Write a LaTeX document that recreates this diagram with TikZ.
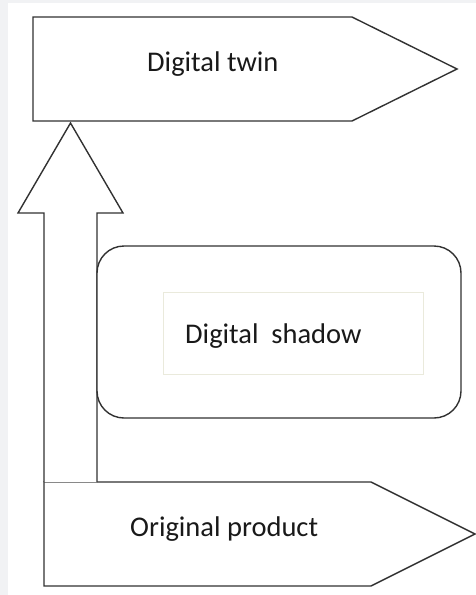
\documentclass[tikz,border=0pt]{standalone}
\usepackage{fontspec}
\setmainfont{Carlito}
\definecolor{bggrey}{RGB}{241,242,244}
\definecolor{framebeige}{RGB}{234,234,220}
\definecolor{linegrey}{RGB}{50,50,50}
\begin{document}
\begin{tikzpicture}[x=1pt,y=-1pt,
  shape line/.style={draw=linegrey,line width=1.4pt,fill=white,line join=miter},
  label text/.style={font=\fontsize{28.5}{34}\selectfont,text=black!90,inner sep=0pt},
  inner frame/.style={draw=framebeige,line width=0.9pt}]
\useasboundingbox (0,0) rectangle (476,595);
\fill[white] (0,0) rectangle (476,595);
\fill[bggrey] (0,0) rectangle (8,595);
\fill[bggrey] (0,0) rectangle (476,3);
% Digital twin block
\draw[shape line] (33,17) -- (352,17) -- (457,69) -- (352,121) -- (33,121) -- cycle;
% Original product block
\draw[shape line] (44,482) -- (371,482) -- (475,534) -- (371,586) -- (44,586) -- cycle;
% Up block arrow
\draw[shape line] (44,482) -- (44,213) -- (18,213) -- (70.5,123) -- (123,213) -- (97,213) -- (97,482);
% Digital shadow
\draw[shape line,rounded corners=27pt] (97,246) rectangle (461,418);
\draw[inner frame] (163,292) rectangle (423,374);
\node[label text,anchor=base west] (twin) at (147,71) {Digital twin};
\node[label text,anchor=base west] (shadow) at (185,343) {Digital\ \ shadow};
\node[label text,anchor=base west] (orig) at (130,536) {Original product};
\end{tikzpicture}
\end{document}
